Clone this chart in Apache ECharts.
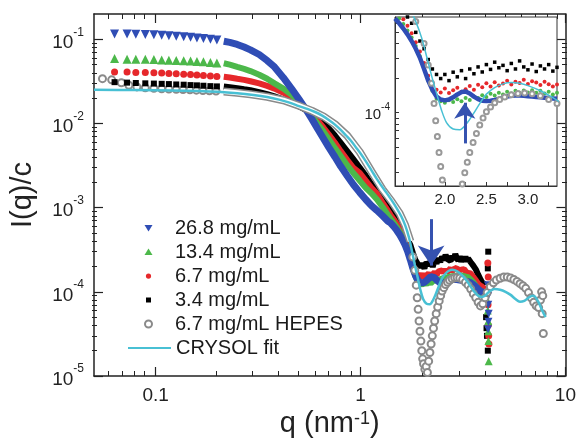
<!DOCTYPE html>
<html>
<head>
<meta charset="utf-8">
<title>I(q)/c</title>
<script src="https://cdn.jsdelivr.net/npm/echarts@6/dist/echarts.min.js"></script>
<style>
  html, body { margin: 0; padding: 0; background: #fff; }
  #chart { width: 579px; height: 444px; }
</style>
</head>
<body>
<div id="chart"></div>
<script>
// low q, single symbols still visible
const qLow = [0.063, 0.0725, 0.080, 0.089, 0.098, 0.107, 0.116, 0.126, 0.137, 0.148, 0.159, 0.171, 0.185, 0.199]
const i268Low = [0.116, 0.116, 0.115, 0.114, 0.113, 0.112, 0.110, 0.109, 0.107, 0.106, 0.104, 0.102, 0.100, 0.098]
const i134Low = [0.059, 0.058, 0.058, 0.0578, 0.0575, 0.057, 0.0566, 0.0562, 0.0557, 0.0552, 0.0546, 0.054, 0.0532, 0.0524]
const i67Low = [0.041, 0.041, 0.0405, 0.0403, 0.040, 0.0397, 0.0394, 0.039, 0.0386, 0.0382, 0.0377, 0.0372, 0.0367, 0.0362]
const i34Low = [0.031, 0.0306, 0.0303, 0.030, 0.0298, 0.0296, 0.0294, 0.0291, 0.0289, 0.0286, 0.0284, 0.0281, 0.0278, 0.0276]

// decay region, symbols merge into a band
const qBand = [0.215, 0.23, 0.25, 0.27, 0.29, 0.32, 0.35, 0.38, 0.42, 0.46, 0.50, 0.54, 0.58, 0.62, 0.66, 0.70, 0.75, 0.80, 0.86, 0.92, 0.99, 1.06, 1.13, 1.20, 1.28, 1.36]
const i268Band = [0.095, 0.092, 0.087, 0.081, 0.075, 0.066, 0.056, 0.047, 0.035, 0.026, 0.0195, 0.0148, 0.0112, 0.0085, 0.0066, 0.0052, 0.0040, 0.0031, 0.0024, 0.0019, 0.00152, 0.00125, 0.00106, 0.00093, 0.0008, 0.00069]
const i134Band = [0.052, 0.050, 0.047, 0.0445, 0.042, 0.038, 0.034, 0.030, 0.026, 0.022, 0.018, 0.0150, 0.0122, 0.0098, 0.0080, 0.0065, 0.0051, 0.0041, 0.0032, 0.0026, 0.0021, 0.00172, 0.00148, 0.00126, 0.00102, 0.00082]
const i67Band = [0.036, 0.0352, 0.034, 0.033, 0.0318, 0.030, 0.028, 0.026, 0.0232, 0.0205, 0.0178, 0.0152, 0.0128, 0.0107, 0.0089, 0.0074, 0.0059, 0.0047, 0.0037, 0.0030, 0.0026, 0.0021, 0.00172, 0.00148, 0.00115, 0.00092]
const i34Band = [0.0275, 0.027, 0.0263, 0.0255, 0.0248, 0.0236, 0.0223, 0.021, 0.0192, 0.0175, 0.016, 0.0145, 0.013, 0.0115, 0.010, 0.0087, 0.0072, 0.0059, 0.0047, 0.0038, 0.0030, 0.0024, 0.0019, 0.00158, 0.0013, 0.00104]

// high q (also shown in the inset)
const qHigh = [1.40, 1.45, 1.50, 1.55, 1.60, 1.65, 1.70, 1.75, 1.80, 1.85, 1.90, 1.95, 2.00, 2.05, 2.10, 2.15, 2.20, 2.25, 2.30, 2.35,
  2.40, 2.45, 2.50, 2.55, 2.60, 2.65, 2.70, 2.75, 2.80, 2.85, 2.90, 2.95, 3.00, 3.05, 3.10, 3.15, 3.20, 3.25, 3.30, 3.35]
const i268High = [0.00066, 0.00060, 0.00054, 0.00048, 0.00042, 0.00036, 0.00030, 0.00024, 0.00019, 0.000158, 0.000138, 0.000130, 0.000128, 0.000130, 0.000136, 0.000144, 0.000151, 0.000153, 0.000147, 0.000138,
  0.000131, 0.000127, 0.000126, 0.000127, 0.000129, 0.000132, 0.000135, 0.000138, 0.000140, 0.000141, 0.000141, 0.000140, 0.000139, 0.000138, 0.000137, 0.000136, 0.000135, 0.000134, 0.000133, 0.000132]
const i134High = [0.00074, 0.00066, 0.00059, 0.00052, 0.00045, 0.00038, 0.00031, 0.00025, 0.00019, 0.000155, 0.000132, 0.000126, 0.000122, 0.000128, 0.000124, 0.000131, 0.000126, 0.000134, 0.000129, 0.000138,
  0.000134, 0.000142, 0.000137, 0.000146, 0.000141, 0.000149, 0.000144, 0.000152, 0.000147, 0.000155, 0.000149, 0.000156, 0.000150, 0.000157, 0.000149, 0.000155, 0.000147, 0.000152, 0.000144, 0.000149]
const i67High = [0.00082, 0.00073, 0.00065, 0.00057, 0.00049, 0.00041, 0.00034, 0.00027, 0.00021, 0.000175, 0.000158, 0.000150, 0.000162, 0.000148, 0.000157, 0.000165, 0.000152, 0.000160, 0.000171, 0.000158,
  0.000175, 0.000166, 0.000180, 0.000169, 0.000184, 0.000172, 0.000179, 0.000190, 0.000176, 0.000186, 0.000181, 0.000193, 0.000178, 0.000188, 0.000183, 0.000174, 0.000186, 0.000177, 0.000169, 0.000176]
const i34High = [0.00095, 0.00086, 0.00077, 0.00068, 0.00060, 0.00050, 0.00042, 0.00036, 0.00029, 0.00024, 0.000215, 0.000198, 0.000215, 0.000190, 0.000225, 0.000205, 0.000232, 0.000198, 0.000240, 0.000218,
  0.000250, 0.000226, 0.000262, 0.000238, 0.000275, 0.000246, 0.000258, 0.000232, 0.000268, 0.000240, 0.000282, 0.000250, 0.000236, 0.000265, 0.000228, 0.000255, 0.000240, 0.000262, 0.000230, 0.000248]

const qTail = [3.45, 3.55, 3.65, 3.75, 3.85, 3.95, 4.05]
const i268Tail = [0.000128, 0.000122, 0.000115, 0.000108, 0.000102, 0.000098, 0.000100]
const i134Tail = [0.000140, 0.000130, 0.000118, 0.000106, 0.000097, 0.000092, 0.000095]
const i67Tail = [0.000165, 0.000150, 0.000138, 0.000125, 0.000118, 0.000112, 0.000120]
const i34Tail = [0.000225, 0.000205, 0.000185, 0.000160, 0.000140, 0.000125, 0.000135]

// last points, scattered
const q268Edge = [4.18, 4.20, 4.20, 4.22, 4.21, 4.19]
const i268Edge = [1.2e-4, 9e-5, 7e-5, 5.5e-5, 4.4e-5, 3.6e-5]
const q134Edge = [4.15, 4.18, 4.20, 4.20, 4.21, 4.22]
const i134Edge = [8e-5, 6e-5, 4.5e-5, 3.4e-5, 2.6e-5, 1.5e-5]
const q67Edge = [4.18, 4.20, 4.19, 4.20, 4.22, 4.23]
const i67Edge = [2.2e-4, 1.5e-4, 7e-5, 4e-5, 3e-5, 2.4e-5]
const q34Edge = [4.20, 4.18, 4.10, 4.12, 4.14, 4.18]
const i34Edge = [3e-4, 1.9e-4, 5e-5, 3.7e-5, 3e-5, 2e-5]

// 6.7 mg/mL HEPES
const qHepesLow = [0.055, 0.061, 0.068, 0.074, 0.081, 0.089, 0.098, 0.107, 0.116, 0.126, 0.136, 0.147, 0.158, 0.170, 0.183, 0.197]
const iHepesLow = [0.0341, 0.0330, 0.0305, 0.0285, 0.0272, 0.0266, 0.0262, 0.0259, 0.0257, 0.0255, 0.0253, 0.0251, 0.0249, 0.0247, 0.0245, 0.0243]
const qHepesBand = [0.215, 0.25, 0.29, 0.35, 0.42, 0.50, 0.58, 0.66, 0.75, 0.86, 0.99, 1.13, 1.28, 1.42, 1.55, 1.65, 1.75]
const iHepesBand = [0.0240, 0.0232, 0.0223, 0.0208, 0.0189, 0.0163, 0.0141, 0.0121, 0.0098, 0.0072, 0.0046, 0.0027, 0.00165, 0.00118, 0.00086, 0.00062, 0.0004]
const qHepesHigh = [1.80, 1.84, 1.87, 1.89, 1.91, 1.93, 1.95, 1.97, 1.99, 2.01, 2.03, 2.06, 2.09, 2.12, 2.15, 2.18, 2.21, 2.24, 2.27, 2.30,
  2.34, 2.38, 2.42, 2.46, 2.50, 2.55, 2.60, 2.66, 2.72, 2.80, 2.88, 2.96, 3.05, 3.15, 3.25, 3.35, 3.45, 3.55, 3.65, 3.75,
  3.85, 3.95, 4.05, 4.15, 4.30, 4.45, 4.60, 4.80, 5.00, 5.20, 5.40, 5.60, 5.80, 6.00, 6.20, 6.40, 6.60, 6.80, 7.00, 7.20,
  7.40, 7.55, 7.65, 7.70, 7.75, 7.80]
const iHepesHigh = [0.00026, 0.00018, 0.00012, 0.000085, 0.000062, 0.000045, 0.000034, 0.000026, 0.00002, 0.000016, 0.000014, 0.000012, 0.000013, 0.000011, 0.000015, 0.000019, 0.000024, 0.00003, 0.000037, 0.000045,
  0.000055, 0.000066, 0.000078, 0.00009, 0.000102, 0.000112, 0.000122, 0.00013, 0.000137, 0.000143, 0.000147, 0.000148, 0.000146, 0.00014, 0.00013, 0.00012, 0.000108, 0.000095, 0.000085, 0.000075,
  0.000068, 0.000072, 0.000085, 0.000098, 0.000115, 0.000128, 0.000138, 0.000145, 0.00015, 0.00015, 0.000146, 0.00014, 0.000133, 0.000125, 0.000118, 0.00011, 0.000098, 0.000085, 0.000075, 0.000068,
  0.000065, 0.00008, 0.0001, 0.000055, 0.00009, 0.000032]

// CRYSOL fit
const qFit = [0.05, 0.08, 0.12, 0.16, 0.2, 0.25, 0.3, 0.35, 0.4, 0.45, 0.5, 0.55, 0.6, 0.65, 0.7, 0.75, 0.8, 0.85, 0.9, 0.95,
  1.0, 1.05, 1.1, 1.15, 1.2, 1.27, 1.34, 1.42, 1.5, 1.58, 1.65, 1.72, 1.78, 1.84, 1.9, 1.96, 2.02, 2.1, 2.18, 2.26,
  2.34, 2.42, 2.5, 2.6, 2.7, 2.8, 2.9, 3.0, 3.15, 3.3, 3.45, 3.6, 3.75, 3.9, 4.05, 4.25, 4.5, 4.8, 5.1, 5.4,
  5.7, 6.0, 6.3, 6.6, 6.9, 7.1, 7.4, 7.7, 8.0]
const iFit = [0.0251, 0.025, 0.0247, 0.0243, 0.0238, 0.0229, 0.0218, 0.0206, 0.0192, 0.0177, 0.0161, 0.0149, 0.0137, 0.0124, 0.011, 0.0097, 0.0084, 0.0072, 0.0062, 0.0052,
  0.0044, 0.0037, 0.0031, 0.0026, 0.0022, 0.0018, 0.0015, 0.00122, 0.00099, 0.00079, 0.00062, 0.00045, 0.00031, 0.00021, 0.000148, 0.000105, 0.000082, 0.000072, 0.000071, 0.00008,
  0.000097, 0.00012, 0.000145, 0.000165, 0.000178, 0.000183, 0.00018, 0.000172, 0.000155, 0.000135, 0.000115, 0.0001, 0.00009, 0.000087, 0.00009, 0.000101, 0.000108, 0.000106, 0.0001, 0.000092,
  0.000082, 0.000076, 0.000078, 0.000085, 0.00009, 0.000088, 0.000075, 0.00006, 0.00005]

// arrows [q, from I, to I]
const arrowMain = [2.21, 7.3e-4, 2.05e-4]
const arrowInset = [2.24, 5.4e-5, 1.22e-4]

// ticks
const xMajor = [0.1, 1, 10]
const xMinor = [0.06, 0.07, 0.08, 0.09, 0.2, 0.3, 0.4, 0.5, 0.6, 0.7, 0.8, 0.9, 2, 3, 4, 5, 6, 7, 8, 9]
const yMajor = [1e-5, 1e-4, 1e-3, 1e-2, 1e-1]
const yMinor = [2e-5, 3e-5, 4e-5, 5e-5, 6e-5, 7e-5, 8e-5, 9e-5, 2e-4, 3e-4, 4e-4, 5e-4, 6e-4, 7e-4, 8e-4, 9e-4,
  2e-3, 3e-3, 4e-3, 5e-3, 6e-3, 7e-3, 8e-3, 9e-3, 2e-2, 3e-2, 4e-2, 5e-2, 6e-2, 7e-2, 8e-2, 9e-2]
const insetXLabels = [2.0, 2.5, 3.0]
const insetXTicks = [1.5, 1.75, 2.0, 2.25, 2.5, 2.75, 3.0, 3.25]
const insetYLabels = [1e-4]
const insetYTicks = [3e-5, 4e-5, 5e-5, 6e-5, 7e-5, 8e-5, 9e-5, 1e-4, 2e-4, 3e-4, 4e-4, 5e-4, 6e-4]

const BLUE = '#2f4db5'
const GREEN = '#4cb84a'
const RED = '#e6282b'
const BLACK = '#000000'
const GREY = '#8a8a8a'
const CYAN = '#48c0d4'
const ARROW = '#3552b0'
const FONT = 'Liberation Sans, Arial, sans-serif'

// legend icons: small symbol centred in a 43 x 7 box
const ICON_DOWN = 'path://M0,0M43,7M17.5,0.5L25.5,0.5L21.5,7Z'
const ICON_UP = 'path://M0,0M43,7M21.5,0L25.5,6.5L17.5,6.5Z'
const ICON_SQUARE = 'path://M0,0M43,7M19,1H24V6H19Z'
const ICON_DOT = 'path://M0,0M43,7M21.5,1A2.6,2.6,0,1,1,21.49,1Z'

const pairs = (qs, is) => qs.map((q, k) => [q, is[k]])

const chart = echarts.init(document.getElementById('chart'))

const powLabel = {
  formatter: v => '{b|10}{s|' + Math.round(Math.log10(v)) + '}',
  rich: {
    b: {fontSize: 19, fontFamily: FONT, color: '#222', verticalAlign: 'bottom', lineHeight: 26},
    s: {fontSize: 12, fontFamily: FONT, color: '#222', verticalAlign: 'top', lineHeight: 26}
  }
}
const axisLine = {show: true, lineStyle: {color: '#222', width: 1.5}}
const main = {left: 92, top: 14, width: 475, height: 362}
const legendText = {fontSize: 20, lineHeight: 24, color: '#1a1a1a', fontFamily: FONT}

function bandSeries(name, data, color, width) {
  return {
    name: name, type: 'line', xAxisIndex: 0, yAxisIndex: 0, data: data,
    symbol: 'none', lineStyle: {color: color, width: width}, itemStyle: {color: color}, z: 2
  }
}
function dotSeries(name, data, color, symbol, size, rotate, xi, yi, z) {
  return {
    name: name, type: 'scatter', xAxisIndex: xi, yAxisIndex: yi, data: data,
    symbol: symbol, symbolSize: size, symbolRotate: rotate || 0,
    itemStyle: {color: color, opacity: 1}, z: z
  }
}
function arrow(a, size, z) {
  return {
    silent: true, z: z, symbol: ['none', 'arrow'], symbolSize: size, label: {show: false},
    lineStyle: {color: ARROW, width: 3, type: 'solid', opacity: 1},
    itemStyle: {color: ARROW},
    data: [[{coord: [a[0], a[1]]}, {coord: [a[0], a[2]]}]]
  }
}

const option = {
  animation: false,
  textStyle: {fontFamily: FONT},
  grid: [
    Object.assign({show: false}, main),
    Object.assign({show: false}, main),
    {left: 395, top: 17, width: 162, height: 169, show: true, backgroundColor: '#fff', borderColor: '#333', borderWidth: 1, z: 20}
  ],
  legend: [
    {
      left: 122, top: 211, orient: 'vertical', selectedMode: false,
      itemWidth: 43, itemHeight: 7, itemGap: 0, symbolKeepAspect: true, symbolRotate: 0,
      textStyle: legendText,
      data: [
        {name: '26.8 mg/mL', icon: ICON_DOWN},
        {name: '13.4 mg/mL', icon: ICON_UP},
        {name: '6.7 mg/mL', icon: ICON_DOT},
        {name: '3.4 mg/mL', icon: ICON_SQUARE},
        {name: '6.7 mg/mL HEPES'}
      ]
    },
    {
      left: 122, top: 331, orient: 'vertical', selectedMode: false,
      itemWidth: 43, itemHeight: 7, itemGap: 0,
      textStyle: legendText,
      data: [{name: 'CRYSOL fit', itemStyle: {opacity: 0}}]
    }
  ],
  xAxis: [
    {
      gridIndex: 0, type: 'log', min: 0.05, max: 10, position: 'bottom',
      name: 'q (nm{s|-1})', nameLocation: 'middle', nameGap: 32,
      nameTextStyle: {fontSize: 29, color: '#222', fontFamily: FONT,
        rich: {s: {fontSize: 18, verticalAlign: 'top', color: '#222', fontFamily: FONT}}},
      axisLine: axisLine,
      axisTick: {inside: true, length: 9, customValues: xMajor, lineStyle: {color: '#222', width: 1.2}},
      axisLabel: {customValues: xMajor, formatter: v => String(+v.toPrecision(2)), fontSize: 19, color: '#222', margin: 10},
      splitLine: {show: false}
    },
    {
      gridIndex: 0, type: 'log', min: 0.05, max: 10, position: 'top',
      axisLine: axisLine,
      axisTick: {inside: true, length: 9, customValues: xMajor, lineStyle: {color: '#222', width: 1.2}},
      axisLabel: {show: false}, splitLine: {show: false}
    },
    {
      gridIndex: 1, type: 'log', min: 0.05, max: 10, position: 'bottom',
      axisLine: {show: false},
      axisTick: {inside: true, length: 5, customValues: xMinor, lineStyle: {color: '#222', width: 1}},
      axisLabel: {show: false}, splitLine: {show: false}
    },
    {
      gridIndex: 1, type: 'log', min: 0.05, max: 10, position: 'top',
      axisLine: {show: false},
      axisTick: {inside: true, length: 5, customValues: xMinor, lineStyle: {color: '#222', width: 1}},
      axisLabel: {show: false}, splitLine: {show: false}
    },
    {
      gridIndex: 2, type: 'value', min: 1.4, max: 3.35, z: 21,
      axisLine: {show: true, lineStyle: {color: '#333', width: 1}},
      axisTick: {inside: true, length: 4, customValues: insetXTicks, lineStyle: {color: '#333'}},
      axisLabel: {customValues: insetXLabels, formatter: v => v.toFixed(1), fontSize: 15, color: '#222', margin: 6},
      splitLine: {show: false}
    }
  ],
  yAxis: [
    {
      gridIndex: 0, type: 'log', min: 1e-5, max: 0.2, position: 'left',
      name: 'I(q)/c', nameLocation: 'middle', nameGap: 57, nameRotate: 90,
      nameTextStyle: {fontSize: 29, color: '#222', fontFamily: FONT},
      axisLine: axisLine,
      axisTick: {inside: true, length: 9, customValues: yMajor, lineStyle: {color: '#222', width: 1.2}},
      axisLabel: Object.assign({customValues: yMajor, margin: 10}, powLabel),
      splitLine: {show: false}
    },
    {
      gridIndex: 0, type: 'log', min: 1e-5, max: 0.2, position: 'right',
      axisLine: axisLine,
      axisTick: {inside: true, length: 9, customValues: yMajor, lineStyle: {color: '#222', width: 1.2}},
      axisLabel: {show: false}, splitLine: {show: false}
    },
    {
      gridIndex: 1, type: 'log', min: 1e-5, max: 0.2, position: 'left',
      axisLine: {show: false},
      axisTick: {inside: true, length: 5, customValues: yMinor, lineStyle: {color: '#222', width: 1}},
      axisLabel: {show: false}, splitLine: {show: false}
    },
    {
      gridIndex: 1, type: 'log', min: 1e-5, max: 0.2, position: 'right',
      axisLine: {show: false},
      axisTick: {inside: true, length: 5, customValues: yMinor, lineStyle: {color: '#222', width: 1}},
      axisLabel: {show: false}, splitLine: {show: false}
    },
    {
      gridIndex: 2, type: 'log', min: 2.3e-5, max: 6.8e-4, z: 21,
      axisLine: {show: true, lineStyle: {color: '#333', width: 1}},
      axisTick: {inside: true, length: 4, customValues: insetYTicks, lineStyle: {color: '#333'}},
      axisLabel: {
        customValues: insetYLabels, margin: 5,
        formatter: v => '{b|10}{s|' + Math.round(Math.log10(v)) + '}',
        rich: {
          b: {fontSize: 15, color: '#222', verticalAlign: 'bottom', lineHeight: 20},
          s: {fontSize: 10, color: '#222', verticalAlign: 'top', lineHeight: 20}
        }
      },
      splitLine: {show: false}
    }
  ],
  series: [
    // main plot bands
    bandSeries('3.4 band', pairs(qBand.concat(qHigh, qTail), i34Band.concat(i34High, i34Tail)), BLACK, 6),
    bandSeries('6.7 band', pairs(qBand.concat(qHigh, qTail), i67Band.concat(i67High, i67Tail)), RED, 6),
    bandSeries('13.4 band', pairs(qBand.concat(qHigh, qTail), i134Band.concat(i134High, i134Tail)), GREEN, 6),
    bandSeries('26.8 band', pairs(qBand.concat(qHigh, qTail), i268Band.concat(i268High, i268Tail)), BLUE, 7),
    bandSeries('HEPES band', pairs(qHepesBand, iHepesBand), GREY, 8),
    bandSeries('HEPES band inner', pairs(qHepesBand, iHepesBand), '#ffffff', 5),
    // main plot symbols
    dotSeries('3.4 edge', pairs(q34Edge, i34Edge), BLACK, 'rect', 6, 0, 0, 0, 3),
    dotSeries('6.7 edge', pairs(q67Edge, i67Edge), RED, 'circle', 7, 0, 0, 0, 3),
    dotSeries('13.4 edge', pairs(q134Edge, i134Edge), GREEN, 'triangle', 8, 0, 0, 0, 3),
    dotSeries('26.8 edge', pairs(q268Edge, i268Edge), BLUE, 'triangle', 8, 180, 0, 0, 3),
    dotSeries('6.7 mg/mL HEPES', pairs(qHepesLow, iHepesLow), GREY, 'emptyCircle', 7, 0, 0, 0, 3),
    dotSeries('HEPES high', pairs(qHepesHigh, iHepesHigh), GREY, 'emptyCircle', 7, 0, 0, 0, 3),
    dotSeries('3.4 mg/mL', pairs(qLow, i34Low), BLACK, 'rect', 6, 0, 0, 0, 3),
    dotSeries('6.7 mg/mL', pairs(qLow, i67Low), RED, 'circle', 7, 0, 0, 0, 3),
    dotSeries('13.4 mg/mL', pairs(qLow, i134Low), GREEN, 'triangle', 9, 0, 0, 0, 3),
    dotSeries('26.8 mg/mL', pairs(qLow, i268Low), BLUE, 'triangle', 9, 180, 0, 0, 3),
    {
      name: 'CRYSOL fit', type: 'line', xAxisIndex: 0, yAxisIndex: 0, data: pairs(qFit, iFit),
      smooth: 0.3, symbol: 'none', lineStyle: {color: CYAN, width: 2.5}, itemStyle: {color: CYAN}, z: 5,
      markLine: arrow(arrowMain, 20, 6)
    },
    // inset
    dotSeries('inset 3.4', pairs(qHigh, i34High), BLACK, 'rect', 3.5, 0, 4, 4, 22),
    dotSeries('inset 6.7', pairs(qHigh, i67High), RED, 'circle', 4, 0, 4, 4, 22),
    dotSeries('inset 13.4', pairs(qHigh, i134High), GREEN, 'circle', 4, 0, 4, 4, 22),
    {
      name: 'inset 26.8', type: 'line', xAxisIndex: 4, yAxisIndex: 4, data: pairs(qHigh, i268High),
      symbol: 'none', lineStyle: {color: BLUE, width: 4.5}, z: 23
    },
    dotSeries('inset HEPES', pairs(qHepesBand.concat(qHepesHigh), iHepesBand.concat(iHepesHigh)), '#999', 'emptyCircle', 5, 0, 4, 4, 23),
    {
      name: 'inset fit', type: 'line', xAxisIndex: 4, yAxisIndex: 4, data: pairs(qFit, iFit),
      smooth: 0.3, symbol: 'none', lineStyle: {color: CYAN, width: 1.5}, z: 24,
      markLine: arrow(arrowInset, 16, 26)
    }
  ]
}

chart.setOption(option)
</script>
</body>
</html>
